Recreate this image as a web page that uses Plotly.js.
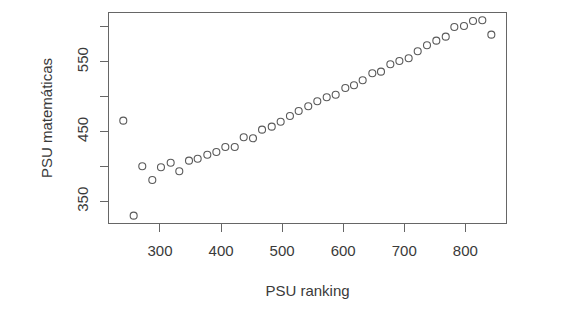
<!DOCTYPE html>
<html>
<head>
<meta charset="utf-8">
<script src="https://cdn.plot.ly/plotly-3.0.1.min.js"></script>
<style>html,body{margin:0;padding:0;background:#fff;}#chart{width:568px;height:310px;}</style>
</head>
<body>
<div id="chart"></div>
<script>
const psuRanking = [239.9, 256.9, 271.0, 287.4, 301.6, 317.5, 331.6, 347.5, 361.7, 377.5,
  392.3, 407.0, 422.4, 437.1, 452.3, 467.1, 483.0, 497.6, 512.8, 527.1,
  542.8, 557.6, 573.0, 587.7, 603.5, 617.7, 631.9, 647.7, 661.9, 677.2,
  692.0, 707.2, 722.0, 737.2, 752.5, 767.9, 782.0, 797.8, 812.6, 827.8, 842.6];
const psuMatematicas = [465.8, 329.7, 400.4, 380.8, 399.0, 405.6, 393.3, 408.5, 411.3, 417.0,
  420.9, 428.0, 428.0, 442.0, 440.5, 452.9, 457.2, 464.3, 472.5, 479.7,
  486.4, 493.6, 499.3, 503.0, 512.6, 516.5, 523.6, 533.7, 536.0, 546.6,
  551.3, 555.2, 565.2, 573.8, 580.4, 586.1, 600.0, 601.4, 608.6, 609.6, 589.0];
const xTickVals = [300, 400, 500, 600, 700, 800];
const xTickText = ["300", "400", "500", "600", "700", "800"];
const yTickVals = [350, 400, 450, 500, 550, 600];
const yTickText = ["350", "", "450", "", "550", ""];

const font = {family: "Liberation Sans, Arial, sans-serif", size: 15, color: "#3a3a3a"};
Plotly.newPlot("chart", [{
  x: psuRanking, y: psuMatematicas, type: "scatter", mode: "markers",
  marker: {symbol: "circle-open", size: 7, color: "#5a5a5a", line: {width: 1.1}},
  hoverinfo: "none"
}], {
  width: 568, height: 310,
  margin: {l: 109, r: 62, t: 13, b: 87},
  paper_bgcolor: "#fff", plot_bgcolor: "#fff",
  font: font, showlegend: false,
  xaxis: {
    range: [216.5, 866.6], showgrid: false, zeroline: false,
    showline: true, mirror: true, linecolor: "#666", linewidth: 1,
    ticks: "outside", ticklen: 8, tickcolor: "#666", tickwidth: 1,
    tickvals: xTickVals, ticktext: xTickText, tickfont: font, ticklabelstandoff: 6,
    title: {text: "PSU ranking", font: font, standoff: 27}
  },
  yaxis: {
    range: [319.2, 620], showgrid: false, zeroline: false,
    showline: true, mirror: true, linecolor: "#666", linewidth: 1,
    ticks: "outside", ticklen: 8, tickcolor: "#666", tickwidth: 1,
    tickvals: yTickVals, ticktext: yTickText, tickfont: font, tickangle: -90,
    ticklabelstandoff: 6,
    title: {text: "PSU matemáticas", font: font, standoff: 17}
  }
}, {staticPlot: true});
</script>
</body>
</html>
